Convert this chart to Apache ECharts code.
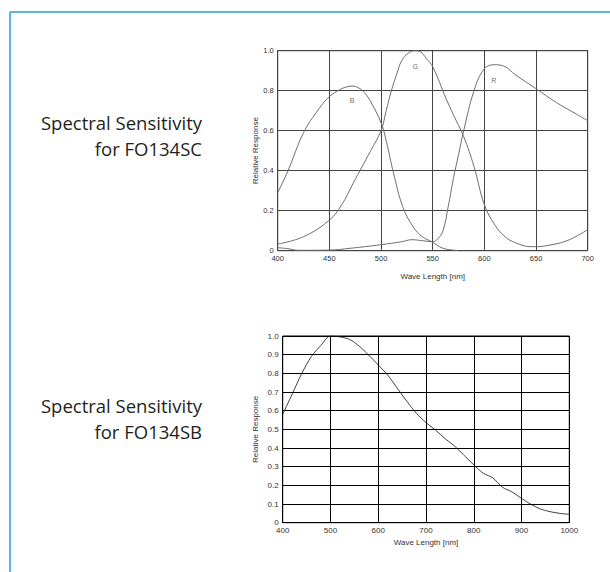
<!DOCTYPE html>
<html><head><meta charset="utf-8">
<script src="https://cdn.jsdelivr.net/npm/echarts@6/dist/echarts.min.js"></script>
<style>html,body{margin:0;padding:0;background:#fff}#c{width:610px;height:572px}</style>
</head><body><div id="c"></div>
<script>
// Top chart (FO134SC) — wavelength [nm], relative response
const bWave = [400,410,425,440,450,460,466,472,478,484,490,500,505,512,521,531,540,549,560,570,575];
const bResp = [0.29,0.40,0.59,0.71,0.77,0.805,0.818,0.823,0.815,0.79,0.745,0.64,0.55,0.39,0.22,0.12,0.07,0.045,0.012,0.003,0.0];
const gWave = [400,425,450,462,473,490,500,505,510,515,520,527,533,538,544,550,563,570,580,590,600,610,620,630,645,650,660,680,700];
const gResp = [0.033,0.07,0.153,0.23,0.337,0.50,0.60,0.70,0.80,0.88,0.95,0.99,1.0,0.995,0.96,0.92,0.76,0.68,0.57,0.42,0.23,0.13,0.07,0.04,0.02,0.02,0.025,0.05,0.105];
const rWave = [400,410,420,450,470,500,520,530,540,550,555,560,565,570,575,580,590,600,610,620,630,650,670,690,700];
const rResp = [0.015,0.01,0.002,0.003,0.012,0.03,0.045,0.055,0.05,0.045,0.06,0.10,0.22,0.36,0.48,0.60,0.80,0.91,0.93,0.92,0.88,0.81,0.74,0.68,0.65];
const topLabels = ['B','G','R'];
const topLabelWave = [472,533,609];
const topLabelResp = [0.75,0.92,0.85];
// Bottom chart (FO134SB)
const mWave = [400,420,440,460,480,500,520,540,560,580,600,620,640,660,680,700,720,740,760,780,800,820,840,860,880,900,920,940,960,980,1000];
const mResp = [0.58,0.69,0.80,0.89,0.95,1.0,0.995,0.982,0.946,0.898,0.845,0.79,0.72,0.65,0.586,0.536,0.496,0.45,0.41,0.36,0.31,0.265,0.24,0.19,0.165,0.13,0.098,0.073,0.059,0.05,0.045];
const titles = [['Spectral Sensitivity','for FO134SC'],['Spectral Sensitivity','for FO134SB']];
const axisNameX = 'Wave Length [nm]';
const axisNameY = 'Relative Response';

const zip = (a,b) => a.map((v,i)=>[v,b[i]]);
const fontFam = '"Liberation Sans", Arial, sans-serif';

const chart = echarts.init(document.getElementById('c'), null, {renderer:'svg'});
function xAxis(gi, min, max, interval, col, nameGap, fs){
  return {type:'value', gridIndex:gi, min, max, interval,
    name:axisNameX, nameLocation:'middle', nameGap, nameMoveOverlap:false,
    nameTextStyle:{fontSize:8, color:'#333', fontFamily:fontFam},
    axisLine:{show:false}, axisTick:{show:false},
    axisLabel:{fontSize:fs, color:'#333', fontFamily:fontFam, margin:4, formatter:v => String(v)},
    splitLine:{show:true, lineStyle:{color:col, width:1}}};
}
function yAxis(gi, interval, col, nameGap, fs){
  return {type:'value', gridIndex:gi, min:0, max:1, interval,
    name:axisNameY, nameLocation:'middle', nameGap, nameRotate:90, nameMoveOverlap:false,
    nameTextStyle:{fontSize:8, color:'#333', fontFamily:fontFam},
    axisLine:{show:false}, axisTick:{show:false},
    axisLabel:{fontSize:fs, color:'#333', fontFamily:fontFam, margin:4, formatter:v => v===0 ? '0' : v.toFixed(1)},
    splitLine:{show:true, lineStyle:{color:col, width:1}}};
}
const titleStyle = {fontSize:18.5, fill:'#231f20', fontFamily:'"Open Sans", sans-serif', align:'right'};
chart.setOption({
  animation:false,
  grid:[
    {left:277.7, top:50.7, width:310, height:200, show:true, borderColor:'#333', borderWidth:1},
    {left:282.7, top:336, width:286.6, height:186.7, show:true, borderColor:'#000', borderWidth:1}
  ],
  xAxis:[xAxis(0,400,700,50,'#444',22,7.5), xAxis(1,400,1000,100,'#000',16,8)],
  yAxis:[yAxis(0,0.2,'#444',18,7.5), yAxis(1,0.1,'#000',23,8)],
  graphic:[
    {type:'line', shape:{x1:10,y1:12,x2:610,y2:12}, style:{stroke:'#2b9ed6', lineWidth:1.5}},
    {type:'line', shape:{x1:10,y1:12,x2:10,y2:572}, style:{stroke:'#2b9ed6', lineWidth:1.5}},
    {type:'text', x:202, y:113, style:Object.assign({text:titles[0][0]}, titleStyle)},
    {type:'text', x:202, y:139, style:Object.assign({text:titles[0][1]}, titleStyle)},
    {type:'text', x:202, y:396, style:Object.assign({text:titles[1][0]}, titleStyle)},
    {type:'text', x:202, y:422, style:Object.assign({text:titles[1][1]}, titleStyle)}
  ],
  series:[
    {type:'line', xAxisIndex:0, yAxisIndex:0, data:zip(bWave,bResp), smooth:0.4, showSymbol:false, lineStyle:{color:'#6e6e6e', width:1}},
    {type:'line', xAxisIndex:0, yAxisIndex:0, data:zip(gWave,gResp), smooth:0.4, showSymbol:false, lineStyle:{color:'#6e6e6e', width:1}},
    {type:'line', xAxisIndex:0, yAxisIndex:0, data:zip(rWave,rResp), smooth:0.4, showSymbol:false, lineStyle:{color:'#6e6e6e', width:1}},
    {type:'scatter', xAxisIndex:0, yAxisIndex:0, symbolSize:0,
      data:topLabels.map((n,i)=>({name:n, value:[topLabelWave[i], topLabelResp[i]]})),
      label:{show:true, position:'inside', formatter:p=>p.name, fontSize:7, color:'#444', fontFamily:fontFam}},
    {type:'line', xAxisIndex:1, yAxisIndex:1, data:zip(mWave,mResp), smooth:0.3, showSymbol:false, lineStyle:{color:'#111', width:0.8}}
  ]
});
</script></body></html>
